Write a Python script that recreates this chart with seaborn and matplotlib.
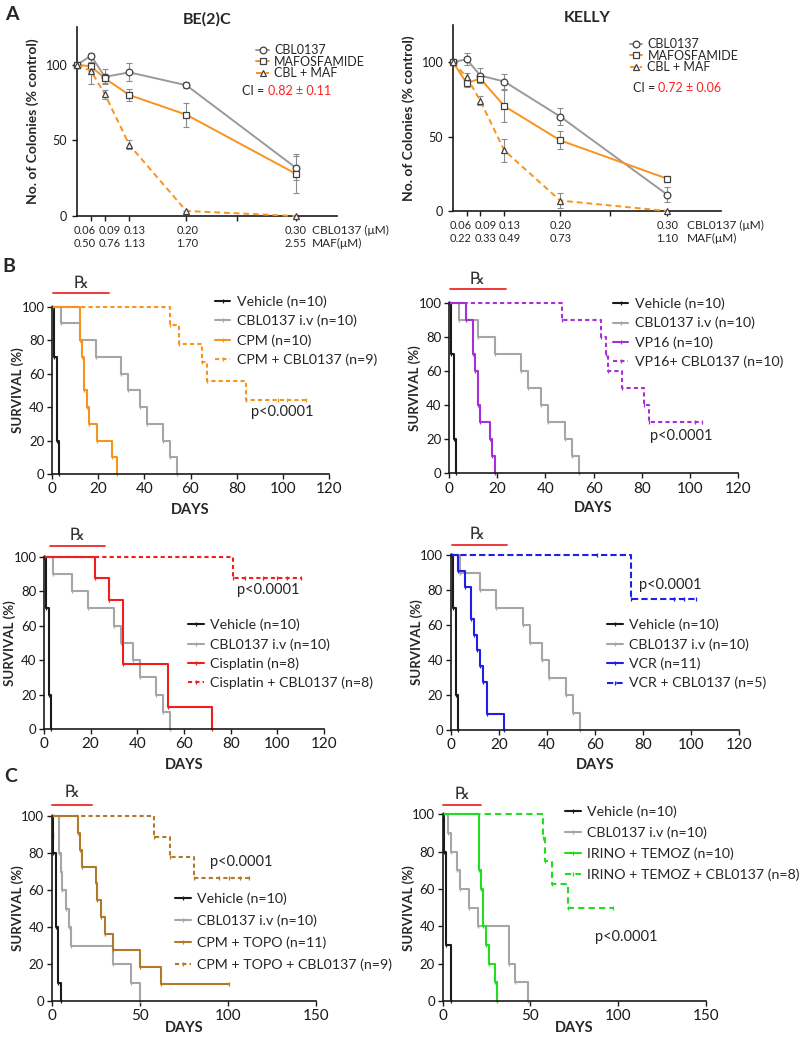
import numpy as np
import pandas as pd
import matplotlib
matplotlib.use("Agg")
import matplotlib.pyplot as plt
import seaborn as sns

# ==== Panel A: colony formation ====
cbl_um = [0, 0.06, 0.09, 0.13, 0.20, 0.30]
be2c_maf_um = ["0.50", "0.76", "1.13", "1.70", "2.55"]
kelly_maf_um = ["0.22", "0.33", "0.49", "0.73", "1.10"]

be2c_cbl = [100, 106, 92, 95, 86.5, 32]
be2c_cbl_err = [0, 2, 5, 6, 2, 8]
be2c_maf = [100, 99, 91, 80, 67, 28]
be2c_maf_err = [0, 3, 3, 4, 8, 13]
be2c_combo = [100, 96, 80.5, 47, 3.3, 0]
be2c_combo_err = [0, 9, 3, 3, 0, 0]

kelly_cbl = [100, 102, 91, 87, 63.5, 11]
kelly_cbl_err = [0, 4, 5, 5, 6, 5]
kelly_maf = [100, 86, 89, 70.5, 47.5, 21.7]
kelly_maf_err = [0, 3, 3, 11, 6, 2]
kelly_combo = [100, 90, 74, 40.7, 7, 0]
kelly_combo_err = [0, 3, 3, 8, 5, 0]

arms = ["CBL0137", "MAFOSFAMIDE", "CBL + MAF"]
arm_colors = {"CBL0137": "#9a9a9a", "MAFOSFAMIDE": "#f7931e", "CBL + MAF": "#f7931e"}
arm_markers = {"CBL0137": "o", "MAFOSFAMIDE": "s", "CBL + MAF": "^"}
arm_dashes = {"CBL0137": "", "MAFOSFAMIDE": "", "CBL + MAF": (3, 2)}

# ==== Panels B / C: Kaplan-Meier survival ====
veh_b_day = [0, 1, 2, 3]
veh_b_surv = [100, 70, 20, 0]
cbl_b_day = [0, 4, 12, 19, 30, 33, 38, 41, 48, 51, 54]
cbl_b_surv = [100, 90, 80, 70, 60, 50, 40, 30, 20, 10, 0]

cpm_day = [0, 12, 13, 14, 15, 16, 19.5, 26, 28]
cpm_surv = [100, 80, 70, 50, 40, 30, 20, 10, 0]
cpm_cbl_day = [0, 51, 55, 65, 67, 84, 98, 102, 110]
cpm_cbl_surv = [100, 88.9, 77.8, 66.7, 55.6, 44.4, 44.4, 44.4, 44.4]

vp16_day = [0, 7, 10, 11, 12, 13, 17, 18, 19]
vp16_surv = [100, 90, 70, 60, 40, 30, 20, 10, 0]
vp16_cbl_day = [0, 47, 63, 65, 66, 72, 81, 83, 102, 105]
vp16_cbl_surv = [100, 90, 80, 70, 60, 50, 40, 30, 30, 30]

cis_day = [0, 22, 28, 34, 53, 72]
cis_surv = [100, 87.5, 75, 37.5, 12.5, 0]
cis_cbl_day = [0, 81, 86, 94, 100, 104, 110]
cis_cbl_surv = [100, 87.5, 87.5, 87.5, 87.5, 87.5, 87.5]

vcr_day = [0, 3, 6, 8.5, 9.5, 11, 12, 13.5, 15, 22]
vcr_surv = [100, 90.9, 81.8, 63.6, 54.5, 45.5, 36.4, 27.3, 9.1, 0]
vcr_cbl_day = [0, 61, 75, 93, 97, 102]
vcr_cbl_surv = [100, 100, 75, 75, 75, 75]

veh_c1_day = [0, 0.5, 1, 2.5, 3.5, 5]
veh_c1_surv = [100, 90, 80, 40, 10, 0]
cbl_c1_day = [0, 4, 5, 6, 8, 10, 11, 35, 45, 50]
cbl_c1_surv = [100, 80, 70, 60, 50, 40, 30, 20, 10, 0]
topo_day = [0, 15, 16, 17, 25, 26, 28, 30, 35, 50, 62, 101]
topo_surv = [100, 90.9, 81.8, 72.7, 63.6, 54.5, 45.5, 36.4, 27.3, 18.2, 9.1, 9.1]
topo_cbl_day = [0, 58, 67, 81, 95, 101, 107, 112]
topo_cbl_surv = [100, 88.9, 77.8, 66.7, 66.7, 66.7, 66.7, 66.7]

veh_c2_day = [0, 1, 2, 4.5]
veh_c2_surv = [100, 80, 30, 0]
cbl_c2_day = [0, 3, 5, 8, 10, 15, 20, 38, 41, 48.5]
cbl_c2_surv = [100, 90, 80, 70, 60, 50, 40, 20, 10, 0]
irino_day = [0, 20.5, 22, 23, 24.7, 26.4, 29.8, 30.8]
irino_surv = [100, 70, 60, 40, 30, 20, 10, 0]
irino_cbl_day = [0, 57, 58.3, 62, 71.5, 97]
irino_cbl_surv = [100, 87.5, 75, 62.5, 50, 50]

BLACK = "#1a1a1a"
GREY = "#a6a6a6"
RX_RED = "#ee2a2a"

sns.set_theme(style="ticks")
plt.rcParams["font.family"] = ["Lato", "DejaVu Sans"]
plt.rcParams["axes.linewidth"] = 1.2
plt.rcParams["xtick.major.width"] = 1.0
plt.rcParams["ytick.major.width"] = 1.0
plt.rcParams["xtick.major.size"] = 3.5
plt.rcParams["ytick.major.size"] = 3.5
plt.rcParams["xtick.color"] = BLACK
plt.rcParams["ytick.color"] = BLACK
plt.rcParams["axes.edgecolor"] = BLACK

W, H = 800, 1046
fig = plt.figure(figsize=(W / 100, H / 100), dpi=100)


def add_ax(x0, y0, x1, y1):
    ax = fig.add_axes([x0 / W, 1 - y1 / H, (x1 - x0) / W, (y1 - y0) / H])
    ax.px = (x1 - x0, y1 - y0)  # axes size in pixels, for label placement
    return ax


P = np.log(2) / np.log(1.5)


def fwd(x):
    return np.power(np.clip(x, 0, None) / 0.06, P)


def inv(x):
    return 0.06 * np.power(np.clip(x, 0, None), 1 / P)


def colony_panel(ax, title, maf_labels, series, errs, ci, legend_xy, ci_xy, unit_x, xmax):
    df = pd.DataFrame({
        "dose": cbl_um * 3,
        "pct": series[0] + series[1] + series[2],
        "arm": [a for a in arms for _ in cbl_um],
    })
    sns.lineplot(data=df, x="dose", y="pct", hue="arm", hue_order=arms, palette=arm_colors,
                 style="arm", style_order=arms, markers=arm_markers, dashes=arm_dashes,
                 estimator=None, ms=4.8, mew=0.9, mec="#404040", mfc="white", lw=1.4,
                 legend=False, ax=ax, zorder=3)
    lines = list(ax.lines)
    for ln in lines:
        ln.set_clip_on(False)
    for vals, err in zip(series, errs):
        ax.errorbar(cbl_um, vals, yerr=err, fmt="none", ecolor="#8c8c8c",
                    elinewidth=0.8, capsize=2, capthick=0.8, zorder=2)
    ax.set_xscale("function", functions=(fwd, inv))
    ax.set_xlim(0, xmax)
    ax.set_ylim(0, 125)
    ax.set_yticks([0, 50, 100])
    ax.set_xticks([0.06, 0.09, 0.13, 0.20, 0.25, 0.30])
    ax.set_xticklabels([])
    ax.xaxis.set_minor_locator(matplotlib.ticker.NullLocator())
    # two-row dose labels, nudged apart where the doses sit close together
    for c, m, dx in zip(cbl_um[1:], maf_labels, [-4.3, 3.6, 3.6, 0.7, 0]):
        ax.annotate(f"{c:.2f}\n{m}", xy=(c, 0), xycoords=("data", "axes fraction"),
                    xytext=(dx, -6.5), textcoords="offset points", ha="center", va="top",
                    fontsize=8.0, linespacing=1.25)
    ax.annotate("CBL0137 (\u03bcM)\nMAF(\u03bcM)", xy=(unit_x, 0), xycoords="axes fraction",
                xytext=(0, -6.5), textcoords="offset points", ha="left", va="top",
                fontsize=8.6, linespacing=1.2)
    ax.tick_params(axis="y", labelsize=9)
    ax.set_xlabel("")
    ax.set_ylabel("No. of Colonies (% control)", fontsize=10, fontweight="bold")
    ax.yaxis.set_label_coords(-38 / ax.px[0], 0.5)
    ax.set_title(title, fontsize=11.5, fontweight="bold", pad=2)
    sns.despine(ax=ax)
    ax.legend(handles=lines, labels=arms, loc="upper left", bbox_to_anchor=legend_xy,
              frameon=False, fontsize=9, handlelength=1.0, handletextpad=0.4,
              labelspacing=-0.04, borderpad=0, borderaxespad=0)
    t = ax.text(ci_xy[0], ci_xy[1], "CI =", transform=ax.transAxes, fontsize=9,
                va="bottom", ha="left")
    ax.annotate(ci, xy=(1, 0), xycoords=t, xytext=(2.5, 0), textcoords="offset points",
                fontsize=9, color="#ff2020", va="bottom", ha="left")


def km_panel(ax, groups, days, survs, colors, dashes, xmax, xstep, legend_xy, gap, p_xy,
             rx_span, rx_y, rx_xy, days_dy):
    df = pd.DataFrame({
        "day": [d for ds in days for d in ds],
        "surv": [s for ss in survs for s in ss],
        "group": [g for g, ds in zip(groups, days) for _ in ds],
    })
    sns.lineplot(data=df, x="day", y="surv", hue="group", hue_order=groups,
                 palette=dict(zip(groups, colors)), style="group", style_order=groups,
                 dashes=dict(zip(groups, dashes)), markers={g: "|" for g in groups},
                 drawstyle="steps-post", estimator=None, lw=1.5, ms=3.5, mew=0.9,
                 legend=False, ax=ax)
    lines = list(ax.lines)
    for ln in lines:
        ln.set_clip_on(False)
        ln.set_markeredgecolor(ln.get_color())
    ax.set_xlim(0, xmax)
    ax.set_ylim(0, 100)
    ax.set_xticks(np.arange(0, xmax + 1, xstep))
    ax.set_yticks(np.arange(0, 101, 20))
    ax.tick_params(axis="x", labelsize=11, pad=2.5)
    ax.tick_params(axis="y", labelsize=9.5, pad=2)
    ax.set_xlabel("DAYS", fontsize=10.5, fontweight="bold")
    ax.set_ylabel("SURVIVAL (%)", fontsize=9.5, fontweight="bold")
    ax.xaxis.set_label_coords(0.5, -days_dy / ax.px[1])
    ax.yaxis.set_label_coords(-34 / ax.px[0], 0.5)
    ax.xaxis.label.set_va("center")
    ax.yaxis.label.set_va("center")
    sns.despine(ax=ax)
    ax.legend(handles=lines, labels=groups, loc="upper left", bbox_to_anchor=legend_xy,
              frameon=False, fontsize=10.2, handlelength=1.1, handletextpad=0.45,
              labelspacing=gap, borderpad=0, borderaxespad=0)
    ax.text(p_xy[0], p_xy[1], "p<0.0001", fontsize=10.5, ha="center", va="center")
    ax.plot(rx_span, [rx_y, rx_y], color=RX_RED, lw=1.3, clip_on=False)
    ax.text(rx_xy[0], rx_xy[1], "\u211e", fontsize=12, ha="center", va="center",
            family=["DejaVu Sans"], color="#333333")


# ---- A ----
ax = add_ax(77, 27, 337, 216)
colony_panel(ax, "BE(2)C", be2c_maf_um, [be2c_cbl, be2c_maf, be2c_combo],
             [be2c_cbl_err, be2c_maf_err, be2c_combo_err], "0.82 \u00b1 0.11",
             (0.69, 0.91), (0.635, 0.63), 0.905, 0.332)
ax = add_ax(453, 25, 721, 211)
colony_panel(ax, "KELLY", kelly_maf_um, [kelly_cbl, kelly_maf, kelly_combo],
             [kelly_cbl_err, kelly_maf_err, kelly_combo_err], "0.72 \u00b1 0.06",
             (0.66, 0.93), (0.67, 0.63), 0.872, 0.342)

# ---- B ----
ax = add_ax(52, 306.7, 329, 474)
km_panel(ax, ["Vehicle (n=10)", "CBL0137 i.v (n=10)", "CPM (n=10)", "CPM + CBL0137 (n=9)"],
         [veh_b_day, cbl_b_day, cpm_day, cpm_cbl_day],
         [veh_b_surv, cbl_b_surv, cpm_surv, cpm_cbl_surv],
         [BLACK, GREY, "#f7931e", "#f7931e"], ["", "", "", (2, 1.5)],
         120, 20, (0.588, 1.068), 0.48, (99.7, 37.2), [0.4, 24.6], 108, (12.7, 114), 36)

ax = add_ax(449, 302.7, 738, 473.3)
km_panel(ax, ["Vehicle (n=10)", "CBL0137 i.v (n=10)", "VP16 (n=10)", "VP16+ CBL0137 (n=10)"],
         [veh_b_day, cbl_b_day, vp16_day, vp16_cbl_day],
         [veh_b_surv, cbl_b_surv, vp16_surv, vp16_cbl_surv],
         [BLACK, GREY, "#a52fd8", "#a52fd8"], ["", "", "", (2, 1.5)],
         120, 20, (0.567, 1.03), 0.48, (96.3, 22), [0.4, 23.7], 108, (11.8, 114), 35)

ax = add_ax(44, 556.7, 324, 729)
km_panel(ax, ["Vehicle (n=10)", "CBL0137 i.v (n=10)", "Cisplatin (n=8)", "Cisplatin + CBL0137 (n=8)"],
         [veh_b_day, cbl_b_day, cis_day, cis_cbl_day],
         [veh_b_surv, cbl_b_surv, cis_surv, cis_cbl_surv],
         [BLACK, GREY, "#f21d1d", "#f21d1d"], ["", "", "", (2, 1.5)],
         120, 20, (0.514, 0.64), 0.48, (96, 80.7), [2.5, 26], 106, (14, 112.5), 36)

ax = add_ax(450.7, 555, 739, 730)
km_panel(ax, ["Vehicle (n=10)", "CBL0137 i.v (n=10)", "VCR (n=11)", "VCR + CBL0137 (n=5)"],
         [veh_b_day, cbl_b_day, vcr_day, vcr_cbl_day],
         [veh_b_surv, cbl_b_surv, vcr_surv, vcr_cbl_surv],
         [BLACK, GREY, "#1f1fe6", "#1f1fe6"], ["", "", "", (3, 1.5)],
         120, 20, (0.542, 0.635), 0.48, (91.3, 82.9), [0.4, 23.5], 106, (10.8, 112), 35)

# ---- C ----
ax = add_ax(51.7, 816, 315.7, 1001)
km_panel(ax, ["Vehicle (n=10)", "CBL0137 i.v (n=10)", "CPM + TOPO (n=11)", "CPM + TOPO + CBL0137 (n=9)"],
         [veh_c1_day, cbl_c1_day, topo_day, topo_cbl_day],
         [veh_c1_surv, cbl_c1_surv, topo_surv, topo_cbl_surv],
         [BLACK, GREY, "#b07a2a", "#b07a2a"], ["", "", "", (2, 1.5)],
         150, 50, (0.467, 0.585), 0.66, (107.5, 75.3), [0.4, 22.7], 106, (11.3, 113), 27)

ax = add_ax(442.7, 814.3, 706, 1001)
km_panel(ax, ["Vehicle (n=10)", "CBL0137 i.v (n=10)", "IRINO + TEMOZ (n=10)", "IRINO + TEMOZ + CBL0137 (n=8)"],
         [veh_c2_day, cbl_c2_day, irino_day, irino_cbl_day],
         [veh_c2_surv, cbl_c2_surv, irino_surv, irino_cbl_surv],
         [BLACK, GREY, "#22dd22", "#22dd22"], ["", "", "", (3, 2)],
         150, 50, (0.465, 1.045), 0.58, (104.3, 34.4), [0, 22], 105, (10.8, 111), 27)

# panel letters
for letter, (x, y) in {"A": (12, 15), "B": (9, 266), "C": (11, 777)}.items():
    fig.text(x / W, 1 - y / H, letter, fontsize=14, fontweight="bold", ha="center", va="center")

fig.savefig("out.png", dpi=100)
